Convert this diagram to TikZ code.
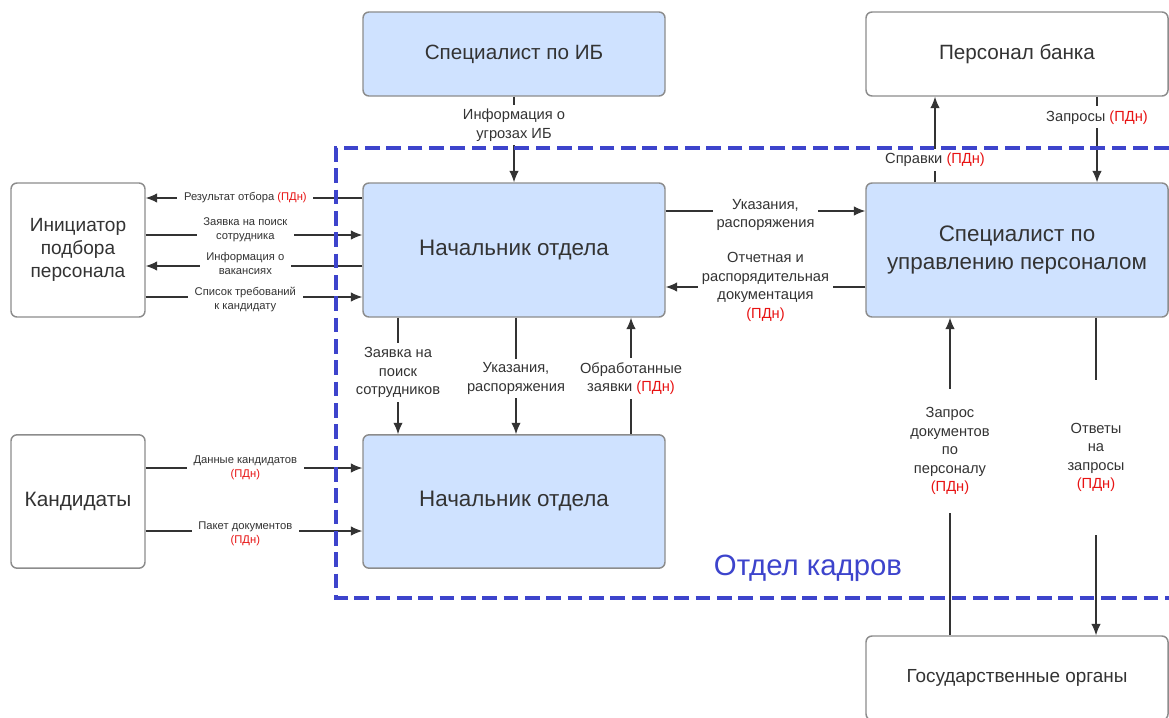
\documentclass[tikz,border=0pt]{standalone}
\usepackage{fontspec}
\setmainfont{Liberation Sans}
\usepackage{xcolor}
\usetikzlibrary{arrows.meta}
\definecolor{boxblue}{HTML}{CFE2FF}
\definecolor{boxline}{HTML}{8C8C8C}
\definecolor{txt}{HTML}{333333}
\definecolor{pdnred}{HTML}{E81313}
\definecolor{frameblue}{HTML}{3D44CC}
\newcommand{\pdn}{\textcolor{pdnred}{(ПДн)}}

\begin{document}
\begin{tikzpicture}[x=0.75pt, y=-0.75pt,
	box/.style={draw=boxline, line width=1.1pt, rounded corners=4.5pt, fill=white, text=txt, align=center, inner sep=0pt, font=\fontsize{15.5}{21}\selectfont, minimum width=226.5pt},
	bluebox/.style={box, fill=boxblue},
	headbox/.style={bluebox, font=\fontsize{16.8}{21}\selectfont},
	sidebox/.style={box, minimum width=100.5pt, font=\fontsize{14.3}{17.5}\selectfont},
	arr/.style={draw=txt, line width=0.8pt, -{Latex[length=8.5pt,width=7pt]}},
	lbl/.style={fill=white, text=txt, align=center, inner sep=3pt, font=\fontsize{11}{13.9}\selectfont},
	slbl/.style={lbl, inner xsep=5pt, font=\fontsize{8.4}{10.5}\selectfont}]
	\useasboundingbox (0,0) rectangle (1169,717);
	\clip (0,0) rectangle (1169,717);

	% blocks
	\node[bluebox, minimum height=63pt] (ib) at (514,54) {Специалист по ИБ};
	\node[box, minimum height=63pt] (bank) at (1017,54) {Персонал банка};
	\node[sidebox, minimum height=100.5pt] (init) at (78,250) {Инициатор\\подбора\\персонала};
	\node[headbox, minimum height=100.5pt] (nt) at (514,250) {Начальник отдела};
	\node[headbox, minimum height=100.5pt] (spec) at (1017,250) {Специалист по\\управлению персоналом};
	\node[sidebox, minimum height=100pt, font=\fontsize{15.6}{18}\selectfont] (cand) at (78,501.5) {Кандидаты};
	\node[headbox, minimum height=100pt] (nb) at (514,501.5) {Начальник отдела};
	\node[box, minimum height=63pt, font=\fontsize{14.2}{18}\selectfont] (gos) at (1017,678) {Государственные органы};

	% top
	\draw[arr] (ib) -- node[lbl, pos=0.33]{Информация о\\угрозах ИБ} (nt);
	\draw[arr] (spec.north -| 935,0) -- node[lbl, pos=0.26]{Справки \pdn} (bank.south -| 935,0);
	\draw[arr] (bank.south -| 1097,0) -- node[lbl, pos=0.24]{Запросы \pdn} (spec.north -| 1097,0);

	% middle
	\draw[arr] (nt.east |- 0,211) -- node[lbl, yshift=-3pt]{Указания,\\распоряжения} (spec.west |- 0,211);
	\draw[arr] (spec.west |- 0,287) -- node[lbl]{Отчетная и\\распорядительная\\документация\\\pdn} (nt.east |- 0,287);

	% left
	\draw[arr] (nt.west |- 0,198) -- node[slbl, pos=0.54]{Результат отбора \pdn} (init.east |- 0,198);
	\draw[arr] (init.east |- 0,235) -- node[slbl, pos=0.46, yshift=4pt]{Заявка на поиск\\сотрудника} (nt.west |- 0,235);
	\draw[arr] (nt.west |- 0,266) -- node[slbl, pos=0.54, yshift=2pt]{Информация о\\вакансиях} (init.east |- 0,266);
	\draw[arr] (init.east |- 0,297) -- node[slbl, pos=0.46, yshift=-2pt]{Список требований\\к кандидату} (nt.west |- 0,297);
	\draw[arr] (cand.east |- 0,468) -- node[slbl, pos=0.46]{Данные кандидатов\\\pdn} (nb.west |- 0,468);
	\draw[arr] (cand.east |- 0,531) -- node[slbl, pos=0.46, yshift=-2pt]{Пакет документов\\\pdn} (nb.west |- 0,531);

	% between heads
	\draw[arr] (nt.south -| 398,0) -- node[lbl, pos=0.47]{Заявка на\\поиск\\сотрудников} (nb.north -| 398,0);
	\draw[arr] (nt.south -| 516,0) -- node[lbl, yshift=-2pt]{Указания,\\распоряжения} (nb.north -| 516,0);
	\draw[arr] (nb.north -| 631,0) -- node[lbl, yshift=-2pt]{Обработанные\\заявки \pdn} (nt.south -| 631,0);

	% authorities
	\draw[arr] (gos.north -| 950,0) -- node[lbl, pos=0.58, inner ysep=14pt]{Запрос\\документов\\по\\персоналу\\\pdn} (spec.south -| 950,0);
	\draw[arr] (spec.south -| 1096,0) -- node[lbl, pos=0.44, inner ysep=32pt]{Ответы\\на\\запросы\\\pdn} (gos.north -| 1096,0);

	% department frame
	\draw[frameblue, line width=3pt, dash pattern=on 11pt off 5pt] (1169,148) -- (336,148) -- (336,598) -- (1169,598);
	\node[text=frameblue, font=\fontsize{22}{26}\selectfont] (dept) at (808,568) {Отдел кадров};
\end{tikzpicture}
\end{document}
